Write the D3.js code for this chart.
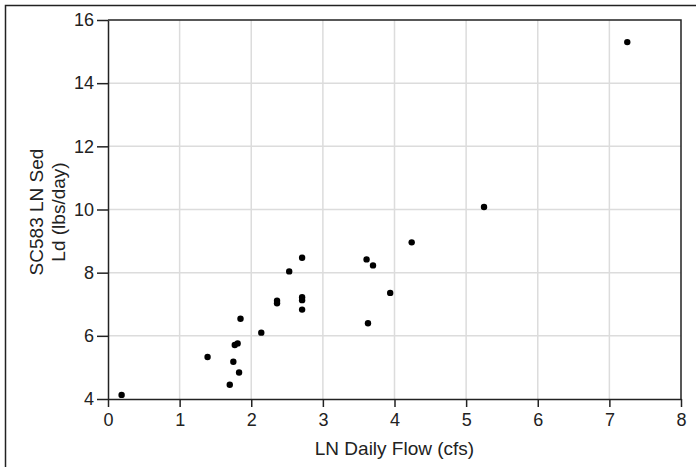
<!DOCTYPE html>
<html>
<head>
<meta charset="utf-8">
<script src="https://cdn.jsdelivr.net/npm/d3@7"></script>
<style>
  body { margin: 0; background: #fff; }
  svg { display: block; font-family: "Liberation Sans", Arial, sans-serif; }
  .grid line { stroke: #dcdcdc; stroke-width: 1.5; }
  .axis text { font-size: 18px; fill: #222; }
  .axis line, .axis path { stroke: #222; stroke-width: 1.5; }
</style>
</head>
<body>
<svg width="696" height="467"></svg>
<script>
// flow (cfs) vs sediment load (lbs/day)
var flow = [0.19, 1.39, 1.75, 1.70, 1.83, 1.77, 1.81, 1.85, 2.14, 2.36, 2.36, 2.53,
            2.71, 2.71, 2.71, 2.71, 3.61, 3.70, 3.94, 3.63, 4.24, 5.25, 7.25];
var load = [4.13, 5.33, 5.18, 4.45, 4.84, 5.71, 5.76, 6.54, 6.10, 7.11, 7.03, 8.04,
            8.47, 7.22, 7.13, 6.83, 8.42, 8.23, 7.36, 6.40, 8.96, 10.08, 15.30];
var xTicks = [0, 1, 2, 3, 4, 5, 6, 7, 8];
var yTicks = [4, 6, 8, 10, 12, 14, 16];
var xLabel = "LN Daily Flow (cfs)";
var yLabel = ["SC583 LN Sed", "Ld (lbs/day)"];

(function() {
  var svg = d3.select("svg");
  var pl = 108, pr = 681, pt = 20, pb = 399;

  var x = d3.scaleLinear().domain([0, 8]).range([pl, pr]);
  var y = d3.scaleLinear().domain([4, 16]).range([pb, pt]);

  // outer frame (runs off the right/bottom edges)
  svg.append("rect")
      .attr("x", 5.5).attr("y", 5.5)
      .attr("width", 720).attr("height", 480)
      .attr("fill", "none").attr("stroke", "#222").attr("stroke-width", 1.5);

  var grid = svg.append("g").attr("class", "grid");
  grid.selectAll(".vx").data(xTicks.slice(1, -1)).enter().append("line")
      .attr("x1", x).attr("x2", x).attr("y1", pt).attr("y2", pb);
  grid.selectAll(".hy").data(yTicks.slice(1, -1)).enter().append("line")
      .attr("y1", y).attr("y2", y).attr("x1", pl).attr("x2", pr);

  svg.append("g")
      .attr("class", "axis")
      .attr("transform", "translate(0," + pb + ")")
      .call(d3.axisBottom(x).tickValues(xTicks).tickSize(8).tickPadding(6).tickSizeOuter(0));

  svg.append("g")
      .attr("class", "axis")
      .attr("transform", "translate(" + pl + ",0)")
      .call(d3.axisLeft(y).tickValues(yTicks).tickSize(11).tickPadding(3).tickSizeOuter(0));

  // top and right frame of the plot
  svg.append("path")
      .attr("d", "M" + pl + "," + pt + "H" + pr + "V" + pb)
      .attr("fill", "none").attr("stroke", "#222").attr("stroke-width", 1.5);

  svg.append("g").selectAll("circle")
      .data(d3.zip(flow, load))
    .enter().append("circle")
      .attr("cx", function(d) { return x(d[0]); })
      .attr("cy", function(d) { return y(d[1]); })
      .attr("r", 3.2)
      .attr("fill", "#000");

  svg.append("text")
      .attr("x", (pl + pr) / 2).attr("y", 455)
      .attr("text-anchor", "middle")
      .attr("font-size", 19).attr("fill", "#222")
      .text(xLabel);

  var yt = svg.append("text")
      .attr("transform", "translate(43,212) rotate(-90)")
      .attr("text-anchor", "middle")
      .attr("font-size", 19).attr("fill", "#222");
  yt.selectAll("tspan").data(yLabel).enter().append("tspan")
      .attr("x", 0)
      .attr("dy", function(d, i) { return i ? 22 : 0; })
      .text(function(d) { return d; });
})();
</script>
</body>
</html>
